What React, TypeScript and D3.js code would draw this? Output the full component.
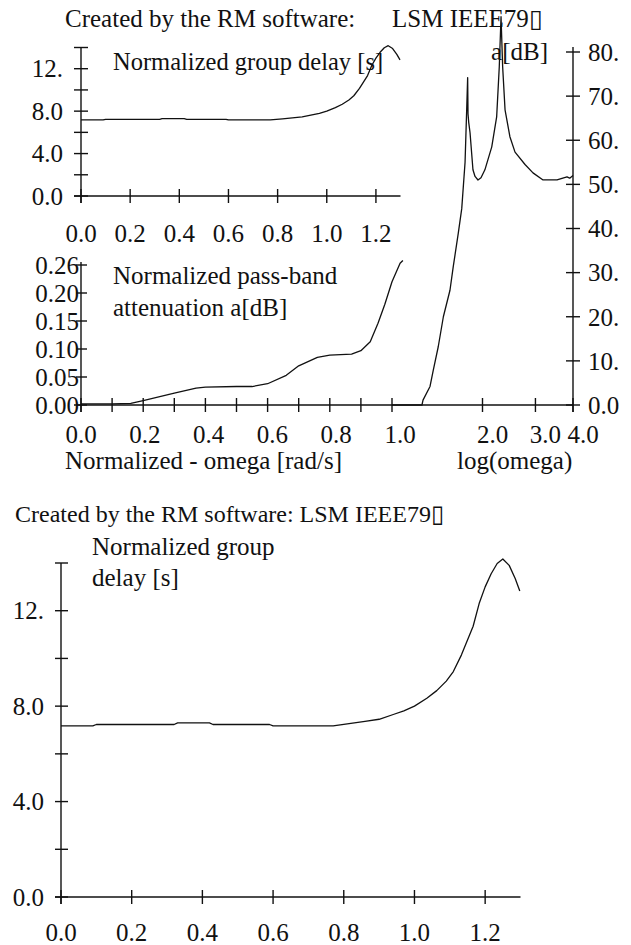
import { useRef, useEffect } from "react";
import * as d3 from "d3";

// group delay tau(omega)
const delayOmega = [0, 0.09, 0.1, 0.32, 0.33, 0.42, 0.43, 0.59, 0.6, 0.77, 0.82, 0.86, 0.9, 0.94, 0.97, 1.0, 1.035, 1.063, 1.09, 1.11, 1.133, 1.166, 1.183, 1.2, 1.217, 1.234, 1.25, 1.268, 1.285, 1.298];
const delaySec = [7.17, 7.17, 7.23, 7.23, 7.3, 7.3, 7.23, 7.23, 7.17, 7.17, 7.28, 7.36, 7.45, 7.65, 7.8, 8.0, 8.33, 8.65, 9.05, 9.45, 10.15, 11.35, 12.3, 13.0, 13.55, 13.98, 14.17, 13.9, 13.35, 12.83];

// pass-band attenuation
const passOmega = [0, 0.1, 0.16, 0.2, 0.3, 0.37, 0.4, 0.5, 0.55, 0.6, 0.66, 0.7, 0.76, 0.8, 0.87, 0.9, 0.93, 0.955, 0.977, 1.0, 1.026, 1.035];
const passDb = [0.002, 0.002, 0.003, 0.008, 0.021, 0.03, 0.032, 0.033, 0.033, 0.038, 0.053, 0.07, 0.085, 0.089, 0.091, 0.097, 0.113, 0.146, 0.18, 0.22, 0.253, 0.258];

// stop-band attenuation over log(omega)
const stopOmega = [1.0, 1.258, 1.268, 1.338, 1.372, 1.425, 1.482, 1.559, 1.599, 1.662, 1.706, 1.75, 1.772, 1.785, 1.79, 1.8, 1.818, 1.859, 1.889, 1.932, 1.977, 2.037, 2.147, 2.229, 2.274, 2.305, 2.334, 2.377, 2.467, 2.566, 2.77, 2.944, 3.18, 3.539, 3.82, 3.9, 4.0];
const stopDb = [0, 0, 1.1, 4.2, 7.9, 13.2, 20, 26, 31.4, 39, 44.5, 55, 67, 74.2, 66, 64, 61.7, 53.3, 51.8, 51, 51.5, 53.3, 58.5, 65.3, 76.6, 88, 76.6, 66.9, 60.8, 57.3, 54.5, 52.6, 51, 51, 51.7, 51.4, 52];

// ticks and labels
const delayTicks = [0, 2, 4, 6, 8, 10, 12, 14];
const delayLabelVals = [0, 4, 8, 12];
const delayLabels = ["0.0", "4.0", "8.0", "12."];
const omegaTicks = [0, 0.2, 0.4, 0.6, 0.8, 1.0, 1.2];
const omegaLabels = ["0.0", "0.2", "0.4", "0.6", "0.8", "1.0", "1.2"];
const passXTicks = [0, 0.1, 0.2, 0.3, 0.4, 0.5, 0.6, 0.7, 0.8, 0.9, 1.0];
const passXLabelVals = [0, 0.2, 0.4, 0.6, 0.8, 1.0];
const passXLabels = ["0.0", "0.2", "0.4", "0.6", "0.8", "1.0"];
const passYTicks = [0, 0.05, 0.1, 0.15, 0.2, 0.25];
const passYLabels = ["0.00", "0.05", "0.10", "0.15", "0.20", "0.26"];
const logTicks = [2, 3, 4];
const logLabels = ["2.0", "3.0", "4.0"];
const dbTicks = [0, 10, 20, 30, 40, 50, 60, 70, 80];
const dbLabels = ["0.0", "10.", "20.", "30.", "40.", "50.", "60.", "70.", "80."];

const FONT = '"Liberation Serif", "Times New Roman", serif';
const INK = "#111";

function App() {
    const svgRef = useRef(null);

    useEffect(() => {
        const svg = d3.select(svgRef.current);
        svg.selectAll("*").remove();

        const line = (x1, y1, x2, y2) =>
            svg.append("line")
                .attr("x1", x1).attr("y1", y1).attr("x2", x2).attr("y2", y2)
                .attr("stroke", INK).attr("stroke-width", 1.4);

        const text = (x, y, s, anchor = "start", size = 25, dy = "0") =>
            svg.append("text")
                .attr("x", x).attr("y", y).attr("dy", dy)
                .attr("text-anchor", anchor)
                .attr("font-family", FONT).attr("font-size", size)
                .attr("fill", INK)
                .text(s);

        const curve = (xs, ys, xScale, yScale) => {
            const pts = xs.map((v, i) => [xScale(v), yScale(ys[i])]);
            svg.append("path")
                .attr("d", d3.line()(pts))
                .attr("fill", "none")
                .attr("stroke", INK)
                .attr("stroke-width", 1.3)
                .attr("stroke-linejoin", "round");
        };

        // ---------- top: small group delay panel ----------
        const x1 = d3.scaleLinear().domain([0, 1.3]).range([81, 400.5]);
        const y1 = d3.scaleLinear().domain([0, 14]).range([196, 47.5]);
        line(x1(0), y1(14), x1(0), y1(0) + 7);
        line(x1(0) - 7, y1(0), x1(1.3), y1(0));
        delayTicks.forEach(t => line(x1(0) - 7, y1(t), x1(0) + 7, y1(t)));
        omegaTicks.forEach(t => line(x1(t), y1(0) - 7, x1(t), y1(0) + 7));
        delayLabelVals.forEach((v, i) => text(63, y1(v), delayLabels[i], "end", 25, "0.35em"));
        omegaTicks.forEach((v, i) => text(x1(v), 242, omegaLabels[i], "middle"));
        text(113, 70, "Normalized group delay [s]", "start", 24.5);

        // ---------- middle left: pass-band ----------
        const x2 = d3.scaleLinear().domain([0, 1]).range([81, 392]);
        const x2lab = d3.scaleLinear().domain([0, 1]).range([81, 400]);
        const y2 = d3.scaleLinear().domain([0, 0.25]).range([405, 265]);
        line(x2(0), 262, x2(0), y2(0) + 7);
        passYTicks.forEach(t => line(x2(0) - 5, y2(t), x2(0) + 6, y2(t)));
        passXTicks.forEach(t => line(x2(t), y2(0) - 7, x2(t), y2(0) + 7));
        passYTicks.forEach((v, i) => text(79, y2(v), passYLabels[i], "end", 25, "0.35em"));
        passXLabelVals.forEach((v, i) => text(x2lab(v), 443, passXLabels[i], "middle"));
        text(113, 284, "Normalized pass-band");
        text(113, 316, "attenuation a[dB]");
        text(65, 469, "Normalized - omega [rad/s]");

        // ---------- middle right: stop-band, log axis ----------
        const x3 = d3.scaleLog().domain([1, 4]).range([392, 573]);
        const y3 = d3.scaleLinear().domain([0, 80]).range([405, 52]);
        line(x2(0) - 7, y2(0), x3(4), y2(0));
        line(x3(4), y3(0) + 7, x3(4), 47);
        dbTicks.forEach(t => line(x3(4) - 7, y3(t), x3(4) + 7, y3(t)));
        logTicks.forEach(t => line(x3(t), y3(0) - 7, x3(t), y3(0) + 7));
        dbTicks.forEach((v, i) => text(588, y3(v), dbLabels[i], "start", 25, "0.35em"));
        logTicks.forEach((v, i) => text(x3(v) + 10, 443, logLabels[i], "middle"));
        text(548, 60, "a[dB]", "end");
        text(457, 469, "log(omega)");

        // top header
        text(65, 27, "Created by the RM software:");
        text(392, 27, "LSM IEEE79\u25AF");

        curve(delayOmega, delaySec, x1, y1);
        curve(passOmega, passDb, x2, y2);
        curve(stopOmega, stopDb, x3, y3);

        // ---------- bottom: large group delay panel ----------
        text(15, 522, "Created by the RM software: LSM IEEE79\u25AF", "start", 24);
        const x4 = d3.scaleLinear().domain([0, 1.3]).range([61, 520.5]);
        const y4 = d3.scaleLinear().domain([0, 14]).range([897, 563]);
        line(x4(0), y4(14), x4(0), y4(0) + 7);
        line(x4(0) - 6, y4(0), x4(1.3), y4(0));
        delayTicks.forEach(t => line(x4(0) - 6, y4(t), x4(0) + 7, y4(t)));
        omegaTicks.forEach(t => line(x4(t), y4(0) - 7, x4(t), y4(0) + 7));
        delayLabelVals.forEach((v, i) => text(44, y4(v), delayLabels[i], "end", 25, "0.35em"));
        omegaTicks.forEach((v, i) => text(x4(v), 941, omegaLabels[i], "middle"));
        text(92, 555, "Normalized group");
        text(92, 586, "delay [s]");
        curve(delayOmega, delaySec, x4, y4);
    }, []);

    return (
        <div>
            <svg ref={svgRef} width={631} height={945}
                style={{ position: "absolute", left: 0, top: 0, background: "#fff" }} />
        </div>
    );
}

export default App;
